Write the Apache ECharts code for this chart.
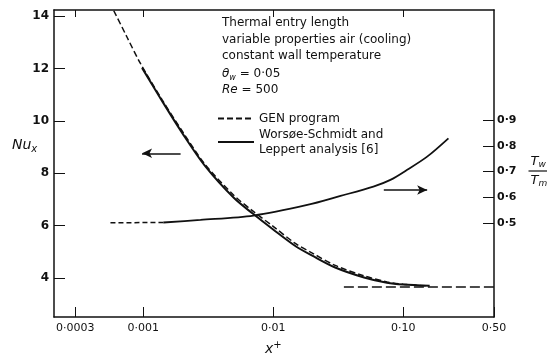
<!DOCTYPE html>
<html>
<head>
<meta charset="utf-8">
<script src="https://cdn.jsdelivr.net/npm/echarts@6/dist/echarts.min.js"></script>
<style>
  html, body { margin: 0; padding: 0; background: #fff; }
  #chart { width: 547px; height: 357px; }
</style>
</head>
<body>
<div id="chart"></div>
<script>
// axis ticks
const xTicks = [0.0003, 0.001, 0.01, 0.1, 0.5]
const xTickText = ['0·0003', '0·001', '0·01', '0·10', '0·50']
const nuTicks = [4, 6, 8, 10, 12, 14]
const ratioTicks = [0.5, 0.6, 0.7, 0.8, 0.9]

// Nu_x, GEN program
const genX = [0.00055, 0.00059, 0.00075, 0.00095, 0.0014, 0.002, 0.003, 0.005, 0.007, 0.01, 0.015, 0.02, 0.03, 0.05, 0.075, 0.1, 0.15]
const genNu = [14.5, 14.23, 13.2, 12.2, 10.8, 9.6, 8.33, 7.15, 6.55, 5.97, 5.3, 4.95, 4.48, 4.08, 3.85, 3.76, 3.7]

// Nu_x, Worsøe-Schmidt and Leppert
const wslX = [0.00098, 0.0014, 0.002, 0.003, 0.005, 0.007, 0.01, 0.015, 0.02, 0.03, 0.05, 0.075, 0.1, 0.16]
const wslNu = [12.02, 10.75, 9.53, 8.27, 7.05, 6.45, 5.85, 5.2, 4.85, 4.4, 4.02, 3.82, 3.75, 3.7]

// Tw/Tm
const genRatioX = [0.00056, 0.00143]
const genRatio = [0.502, 0.503]
const wslRatioX = [0.00143, 0.00276, 0.00705, 0.0183, 0.033, 0.059, 0.0798, 0.1074, 0.153, 0.223]
const wslRatio = [0.503, 0.513, 0.53, 0.571, 0.606, 0.642, 0.668, 0.707, 0.758, 0.829]

// fully developed limit 3.66
const limitX = [0.035, 0.5]
const limitNu = [3.66, 3.66]

const pair = (xs, ys) => xs.map((x, i) => [x, ys[i]])
const ink = '#111'
const font = 'DejaVu Sans'

let chart = echarts.init(document.getElementById('chart'))
let option = {
  animation: false,
  backgroundColor: '#fff',
  color: [ink],
  textStyle: { fontFamily: font, color: ink },
  grid: { left: 54, right: 53, top: 10, bottom: 40 },
  legend: {
    left: 212,
    top: 106,
    orient: 'vertical',
    itemWidth: 36,
    itemHeight: 8,
    itemGap: 1,
    itemStyle: { opacity: 0 },
    data: ['GEN program', 'Worsøe-Schmidt and Leppert analysis [6]'],
    formatter: name => name.replace(' Leppert', '\nLeppert'),
    textStyle: { fontSize: 12, color: ink, fontFamily: font, lineHeight: 15 }
  },
  xAxis: [
    {
      type: 'log',
      min: 0.000206,
      max: 0.5,
      axisLine: { lineStyle: { color: ink, width: 1.5 } },
      axisTick: { inside: true, length: 10, customValues: xTicks, lineStyle: { color: ink } },
      axisLabel: {
        customValues: xTicks,
        color: ink,
        fontSize: 11,
        margin: 6,
        formatter: v => {
          let i = xTicks.findIndex(t => Math.abs(t - v) / t < 0.01)
          return i < 0 ? '' : xTickText[i]
        }
      },
      splitLine: { show: false },
      minorTick: { show: false }
    },
    {
      type: 'log',
      position: 'top',
      min: 0.000206,
      max: 0.5,
      axisLine: { lineStyle: { color: ink, width: 1.5 } },
      axisTick: { inside: true, length: 7, customValues: xTicks.slice(0, 4), lineStyle: { color: ink } },
      axisLabel: { show: false },
      splitLine: { show: false }
    }
  ],
  yAxis: [
    {
      type: 'value',
      min: 2.51,
      max: 14.23,
      axisLine: { show: true, lineStyle: { color: ink, width: 1.5 } },
      axisTick: { show: true, inside: true, length: 11, customValues: nuTicks, lineStyle: { color: ink } },
      axisLabel: { customValues: nuTicks, color: ink, fontSize: 12, fontWeight: 'bold', margin: 5 },
      splitLine: { show: false }
    },
    {
      type: 'value',
      min: 0.137,
      max: 1.326,
      position: 'right',
      axisLine: { show: true, lineStyle: { color: ink, width: 1.5 } },
      axisTick: { show: true, inside: true, length: 11, customValues: ratioTicks, lineStyle: { color: ink } },
      axisLabel: {
        customValues: ratioTicks,
        color: ink,
        fontSize: 11,
        fontWeight: 'bold',
        margin: 3,
        formatter: v => v.toFixed(1).replace('.', '·')
      },
      splitLine: { show: false }
    }
  ],
  series: [
    {
      name: 'GEN program',
      type: 'line',
      smooth: 0.3,
      showSymbol: false,
      symbol: 'none',
      lineStyle: { color: ink, width: 1.5, type: [6, 3] },
      data: pair(genX, genNu)
    },
    {
      name: 'Worsøe-Schmidt and Leppert analysis [6]',
      type: 'line',
      smooth: 0.3,
      showSymbol: false,
      symbol: 'none',
      lineStyle: { color: ink, width: 2 },
      data: pair(wslX, wslNu),
      markLine: {
        silent: true,
        symbol: ['arrow', 'none'],
        symbolSize: [7, 10],
        label: { show: false },
        lineStyle: { color: ink, width: 1.5, type: 'solid' },
        data: [[{ coord: [0.00098, 8.76] }, { coord: [0.00194, 8.76] }]]
      }
    },
    {
      name: 'GEN program',
      type: 'line',
      yAxisIndex: 1,
      showSymbol: false,
      symbol: 'none',
      lineStyle: { color: ink, width: 1.5, type: [5, 3] },
      data: pair(genRatioX, genRatio)
    },
    {
      name: 'Worsøe-Schmidt and Leppert analysis [6]',
      type: 'line',
      yAxisIndex: 1,
      smooth: 0.3,
      showSymbol: false,
      symbol: 'none',
      lineStyle: { color: ink, width: 1.8 },
      data: pair(wslRatioX, wslRatio),
      markLine: {
        silent: true,
        symbol: ['none', 'arrow'],
        symbolSize: [7, 10],
        label: { show: false },
        lineStyle: { color: ink, width: 1.5, type: 'solid' },
        data: [[{ coord: [0.071, 0.629] }, { coord: [0.153, 0.629] }]]
      }
    },
    {
      type: 'line',
      showSymbol: true,
      symbol: 'none',
      lineStyle: { color: ink, width: 1.5, type: [10, 4] },
      label: {
        show: true,
        position: 'left',
        distance: 2,
        fontSize: 11,
        color: ink,
        formatter: p => (p.dataIndex === 0 ? String(p.value[1]).replace('.', '·') : '')
      },
      data: pair(limitX, limitNu)
    }
  ],
  graphic: [
    {
      type: 'text',
      left: 222,
      top: 15,
      style: {
        text: 'Thermal entry length\nvariable properties air (cooling)\nconstant wall temperature',
        font: '12px "DejaVu Sans"',
        lineHeight: 16.5,
        fill: ink
      }
    },
    {
      type: 'text',
      left: 222,
      top: 66,
      style: {
        text: '{i|θ}{s|w} = 0·05\n{i|Re} = 500',
        font: '12px "DejaVu Sans"',
        lineHeight: 16,
        fill: ink,
        rich: {
          i: { fontStyle: 'italic', fontSize: 12, fontFamily: font },
          s: { fontStyle: 'italic', fontSize: 8, fontFamily: font, verticalAlign: 'bottom', padding: [5, 0, 0, 0] }
        }
      }
    },
    {
      type: 'text',
      left: 12,
      top: 138,
      style: {
        text: '{n|Nu}{s|x}',
        fill: ink,
        rich: {
          n: { fontStyle: 'italic', fontSize: 14, fontFamily: font },
          s: { fontStyle: 'italic', fontSize: 10, fontFamily: font, padding: [8, 0, 0, 0] }
        }
      }
    },
    {
      type: 'text',
      left: 265,
      top: 340,
      style: {
        text: '{n|x}{s|+}',
        fill: ink,
        rich: {
          n: { fontStyle: 'italic', fontSize: 14, fontFamily: font },
          s: { fontSize: 10, fontFamily: font, padding: [0, 0, 8, 0] }
        }
      }
    },
    {
      type: 'group',
      left: 526,
      top: 155,
      children: [
        {
          type: 'text',
          x: 2,
          y: 0,
          style: {
            text: '{n|T}{s|w}',
            fill: ink,
            rich: {
              n: { fontStyle: 'italic', fontSize: 13, fontFamily: font },
              s: { fontStyle: 'italic', fontSize: 9, fontFamily: font, padding: [6, 0, 0, 0] }
            }
          }
        },
        { type: 'line', shape: { x1: 0, y1: 17, x2: 19, y2: 17 }, style: { stroke: ink, lineWidth: 1.2 } },
        {
          type: 'text',
          x: 2,
          y: 19,
          style: {
            text: '{n|T}{s|m}',
            fill: ink,
            rich: {
              n: { fontStyle: 'italic', fontSize: 13, fontFamily: font },
              s: { fontStyle: 'italic', fontSize: 9, fontFamily: font, padding: [6, 0, 0, 0] }
            }
          }
        }
      ]
    }
  ]
}
chart.setOption(option)
</script>
</body>
</html>
